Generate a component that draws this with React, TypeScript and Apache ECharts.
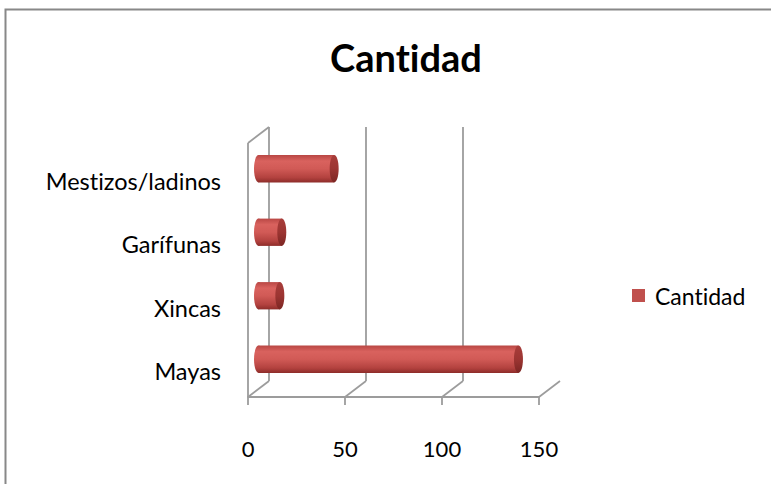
import React, { useEffect, useRef } from "react";
import * as echarts from "echarts";

const categories = ["Mayas", "Xincas", "Garífunas", "Mestizos/ladinos"];
const values = [134, 11, 12, 39];
const xTicks = [0, 50, 100, 150];
const seriesName = "Cantidad";

const DX = 21;
const DY = -16;
const WALL = "#9c9c9c";
const FONT = "Lato, 'Open Sans', sans-serif";

export default function App() {
  const ref = useRef<HTMLDivElement>(null);
  useEffect(() => {
    if (!ref.current) return;
    const chart = echarts.init(ref.current, null, { renderer: "svg" });
    const wallLine = (x1: number, y1: number, x2: number, y2: number) => ({
      type: "line",
      shape: { x1, y1, x2, y2 },
      style: { stroke: WALL, lineWidth: 1.8 },
    });
    chart.setOption({
      animation: false,
      color: ["#c0504d"],
      title: {
        text: "Cantidad",
        left: 401,
        textAlign: "center",
        top: 33,
        textStyle: { fontFamily: FONT, fontSize: 38, fontWeight: "bold", color: "#000" },
      },
      legend: {
        data: [seriesName],
        left: 627,
        top: 279,
        icon: "rect",
        itemWidth: 13,
        itemHeight: 13,
        textStyle: { fontFamily: FONT, fontSize: 23, color: "#000", padding: [0, 0, 0, 5] },
      },
      graphic: [
        {
          type: "rect",
          shape: { x: 5.5, y: 9.5, width: 800, height: 500 },
          style: { fill: "none", stroke: "#888888", lineWidth: 2 },
          silent: true,
        },
      ],
      grid: { left: 248, top: 143, width: 291, height: 254 },
      xAxis: {
        type: "value",
        min: 0,
        max: 150,
        interval: 50,
        axisLine: { show: true, lineStyle: { color: WALL, width: 1.8 } },
        axisTick: { show: true, length: 8, lineStyle: { color: WALL, width: 1.8 } },
        splitLine: { show: false },
        axisLabel: { fontFamily: FONT, fontSize: 22, color: "#000", margin: 40 },
      },
      yAxis: {
        type: "category",
        data: categories,
        axisLine: { show: false },
        axisTick: { show: false },
        axisLabel: {
          fontFamily: FONT,
          fontSize: 23.5,
          color: "#000",
          margin: 27,
          verticalAlign: "top",
          lineHeight: 12,
        },
      },
      series: [
        {
          name: "wall",
          type: "custom",
          clip: false,
          z: 1,
          silent: true,
          data: [[0, 0]],
          renderItem: (params: any, api: any) => {
            const cs = params.coordSys;
            const top = cs.y;
            const bottom = cs.y + cs.height;
            const xs = xTicks.map((v) => api.coord([v, 0])[0]);
            const x0 = xs[0];
            const children: any[] = [];
            children.push(wallLine(x0, top, x0, bottom));
            children.push(wallLine(x0, top, x0 + DX, top + DY));
            children.push(wallLine(x0 + DX, top + DY, x0 + DX, bottom + DY));
            xs.forEach((x, i) => {
              children.push(wallLine(x, bottom, x + DX, bottom + DY));
              if (i > 0 && i < xs.length - 1) {
                children.push(wallLine(x + DX, top + DY, x + DX, bottom + DY));
              }
            });
            return { type: "group", children };
          },
        },
        {
          name: seriesName,
          type: "custom",
          clip: false,
          z: 2,
          data: values.map((v, i) => [v, i]),
          renderItem: (params: any, api: any) => {
            const v = api.value(0);
            const idx = api.value(1);
            const s = api.coord([0, idx]);
            const e = api.coord([v, idx]);
            const band = api.size([0, 1])[1];
            const h = band * 0.43;
            const cy = s[1] - 6;
            const sx = s[0] + DX / 2;
            const ex = e[0] + DX / 2;
            const rx = 4.5;
            const ry = h / 2;
            const bodyGrad = new echarts.graphic.LinearGradient(0, 0, 0, 1, [
              { offset: 0, color: "#b94744" },
              { offset: 0.22, color: "#d9625e" },
              { offset: 0.5, color: "#d15a56" },
              { offset: 0.82, color: "#b3423f" },
              { offset: 1, color: "#8e2d2a" },
            ]);
            const capGrad = new echarts.graphic.LinearGradient(0, 0, 0, 1, [
              { offset: 0, color: "#a83d3a" },
              { offset: 0.5, color: "#9c3532" },
              { offset: 1, color: "#7c2623" },
            ]);
            return {
              type: "group",
              children: [
                {
                  type: "ellipse",
                  shape: { cx: sx, cy, rx, ry },
                  style: { fill: bodyGrad },
                },
                {
                  type: "rect",
                  shape: { x: sx, y: cy - ry, width: Math.max(ex - sx, 0), height: h },
                  style: { fill: bodyGrad },
                },
                {
                  type: "ellipse",
                  shape: { cx: ex, cy, rx, ry },
                  style: { fill: capGrad },
                },
              ],
            };
          },
        },
      ],
    });
    return () => chart.dispose();
  }, []);
  return (
    <div
      ref={ref}
      style={{
        position: "fixed",
        left: 0,
        top: 0,
        width: 771,
        height: 484,
        background: "#fff",
        fontVariantLigatures: "none",
        fontFeatureSettings: '"liga" 0',
      }}
    />
  );
}
